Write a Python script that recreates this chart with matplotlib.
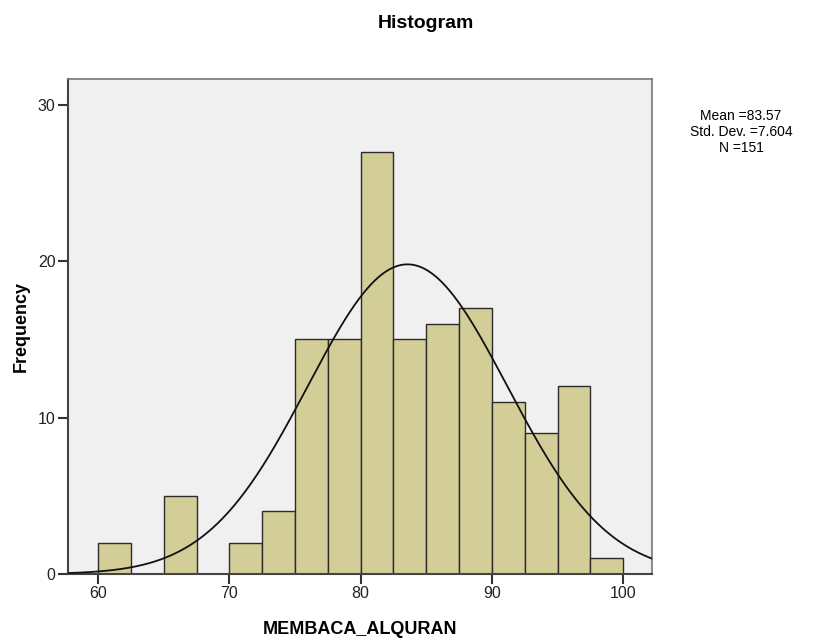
import numpy as np
import matplotlib
matplotlib.use("Agg")
import matplotlib.pyplot as plt

plt.rcParams['font.family'] = ['Liberation Sans', 'DejaVu Sans']

# histogram bins (left edges) and counts
bin_left = [60, 62.5, 65, 67.5, 70, 72.5, 75, 77.5, 80, 82.5, 85, 87.5, 90, 92.5, 95, 97.5]
counts = [2, 0, 5, 0, 2, 4, 15, 15, 27, 15, 16, 17, 11, 9, 12, 1]
bin_width = 2.5

mean = 83.57
std = 7.604
n = 151

fig = plt.figure(figsize=(8.16, 6.4), dpi=100)
ax = fig.add_axes([68/816, 66/640, (652-68)/816, (574-79)/640])
ax.set_facecolor('#f0f0f0')

ax.bar(bin_left, counts, width=bin_width, align='edge',
       color='#d3ce97', edgecolor='#2b2b2b', linewidth=1.0, zorder=2)

# normal curve scaled to counts
xs = np.linspace(57.7, 102.3, 400)
ys = n * bin_width / (std * np.sqrt(2 * np.pi)) * np.exp(-0.5 * ((xs - mean) / std) ** 2)
ax.plot(xs, ys, color='#111111', linewidth=1.3, zorder=3)

ax.set_xlim(57.7, 102.2)
ax.set_ylim(0, 31.66)
ax.set_xticks([60, 70, 80, 90, 100])
ax.set_yticks([0, 10, 20, 30])
ax.tick_params(direction='out', length=7, width=1.5, colors='#333333',
               labelsize=11.5, labelcolor='#222222', pad=2)

for side in ['left', 'bottom']:
    ax.spines[side].set_color('#444444')
    ax.spines[side].set_linewidth(1.5)
for side in ['top', 'right']:
    ax.spines[side].set_color('#777777')
    ax.spines[side].set_linewidth(1.2)

ax.set_xlabel('MEMBACA_ALQURAN', fontsize=13, fontweight='bold', labelpad=14)
ax.set_ylabel('Frequency', fontsize=13, fontweight='bold', labelpad=6)
fig.text(426/816, 1 - 24/640, 'Histogram', ha='center', va='center',
         fontsize=14, fontweight='bold')

fig.text(741/816, 1 - 132/640, 'Mean =83.57\nStd. Dev. =7.604\nN =151',
         ha='center', va='center', fontsize=10, linespacing=1.15)

fig.savefig('out.png', dpi=100)
